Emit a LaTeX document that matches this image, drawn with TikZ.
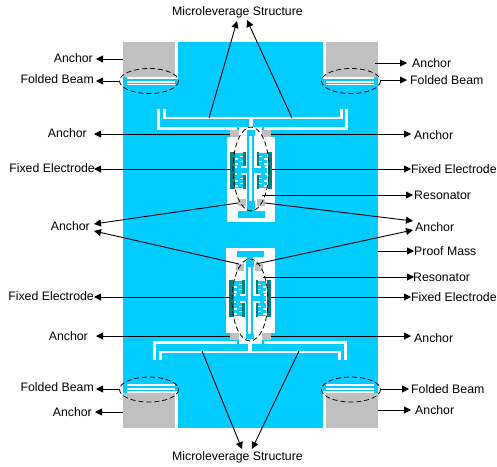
\documentclass[tikz,border=0pt]{standalone}
\usepackage{fontspec}
\setmainfont{Liberation Sans}
\usetikzlibrary{arrows.meta}
\definecolor{mems}{RGB}{0,204,255}
\definecolor{anch}{RGB}{192,192,192}
\definecolor{elec}{RGB}{0,128,128}
\tikzset{
 lab/.style={inner sep=0pt,font=\fontsize{12.3}{13}\selectfont,text height=8.8pt,text depth=0pt},
 conn/.style={draw=black,line width=0.9pt,-{Triangle[length=7pt,width=7pt]}},
 ring/.style={draw=black,line width=0.8pt,dash pattern=on 5pt off 3pt},
 bluepart/.style={fill=mems},
 whitepart/.style={fill=white},
 graypart/.style={fill=anch},
 tealpart/.style={fill=elec}
}
\newcommand{\devcomb}[2]{%
 \begin{scope}[shift={(#1,#2)}]
 \foreach \s in {1,-1}{
  \begin{scope}[xscale=\s]
   \fill[tealpart] (16.5,152) rectangle (21,189);
   \fill[tealpart] (5.5,152) rectangle (8,166);
   \fill[tealpart] (5.5,175) rectangle (8,189);
   \fill[bluepart] (8,153) rectangle (16,166);
   \fill[bluepart] (8,175) rectangle (16,188);
   \fill[bluepart] (2,168) rectangle (16,173);
   \fill[bluepart] (10,165) rectangle (14,176);
   \foreach \y in {156,161,178,183}{
    \fill[whitepart] (8,\y) rectangle (11,\y+1.1);
    \fill[whitepart] (13,\y+2.4) rectangle (16,\y+3.5);
   }
  \end{scope}
 }
 \end{scope}}
\begin{document}
\begin{tikzpicture}[x=1pt,y=-1pt]
\useasboundingbox (0,0) rectangle (497,466);
\fill[white] (0,0) rectangle (497,466);
% proof mass
\fill[bluepart] (123,42) rectangle (378,428);
% anchors, white gaps
\fill[whitepart] (175,42) rectangle (178,79);
\fill[whitepart] (323,42) rectangle (326,79);
\fill[whitepart] (175,391) rectangle (178,428);
\fill[whitepart] (323,391) rectangle (326,428);
\fill[graypart] (123,42) rectangle (175,77);
\fill[graypart] (326,42) rectangle (378,77);
\fill[graypart] (123,393) rectangle (175,428);
\fill[graypart] (326,393) rectangle (378,428);
% folded beams
\foreach \xa/\xb in {127/175,326/374}{
 \fill[whitepart] (\xa,77) rectangle (\xb,79);
 \fill[whitepart] (\xa,80.5) rectangle (\xb,82.5);
 \fill[whitepart] (\xa,83.5) rectangle (\xb,84.5);
 \fill[whitepart] (\xa,384) rectangle (\xb,386);
 \fill[whitepart] (\xa,388) rectangle (\xb,390);
 \fill[whitepart] (\xa,391) rectangle (\xb,393);
}
% upper microlever
\fill[whitepart] (157,109) rectangle (160,129);
\fill[whitepart] (163,109) rectangle (165.5,118.5);
\fill[whitepart] (157,127) rectangle (348,129.5);
\fill[whitepart] (163,116.5) rectangle (342.5,118.5);
\fill[whitepart] (345,109) rectangle (348,129);
\fill[whitepart] (340,109) rectangle (342.5,118.5);
\fill[whitepart] (249,117) rectangle (253,137);
% lower microlever
\fill[whitepart] (153,341) rectangle (156,360);
\fill[whitepart] (159,351) rectangle (162,360);
\fill[whitepart] (153,341) rectangle (347,344);
\fill[whitepart] (159,351) rectangle (341,353);
\fill[whitepart] (344,341) rectangle (347,360);
\fill[whitepart] (338,351) rectangle (341,360);
\fill[whitepart] (248,334) rectangle (252,353);
% upper cavity
\fill[whitepart] (227,137) rectangle (275,222);
\fill[whitepart] (239,129) rectangle (262,137);
\fill[bluepart] (237,126) rectangle (239,130);
\fill[bluepart] (262,126) rectangle (264,130);
\fill[graypart] (230,130) rectangle (239,137);
\fill[graypart] (262,130) rectangle (271,137);
\fill[bluepart] (247,136) rectangle (249,201);
\fill[bluepart] (252,136) rectangle (254,201);
\fill[bluepart] (247,130) rectangle (255,136);
\devcomb{251}{0}
\fill[graypart] (238,199) rectangle (246,206);
\fill[graypart] (257,199) rectangle (265,206);
\fill[bluepart] (247,201) rectangle (255,211);
\fill[bluepart] (238,211) rectangle (265,218);
% lower cavity
\fill[whitepart] (226,248) rectangle (275,333);
\fill[whitepart] (239,333) rectangle (262,341);
\fill[bluepart] (237,251) rectangle (264,257);
\fill[bluepart] (246.5,257) rectangle (253,261);
\fill[bluepart] (246,261) rectangle (254,267);
\fill[graypart] (236,264) rectangle (244,271);
\fill[graypart] (255,264) rectangle (263,271);
\fill[bluepart] (246,267) rectangle (248,334);
\fill[bluepart] (251,267) rectangle (253,334);
\devcomb{250}{128}
\fill[bluepart] (246,334) rectangle (254,339);
\fill[graypart] (230,333) rectangle (239,340);
\fill[graypart] (262,333) rectangle (271,340);
\fill[bluepart] (237,340) rectangle (239,344);
\fill[bluepart] (262,340) rectangle (264,344);
% rings
\draw[ring] (149,81) ellipse [x radius=29.5,y radius=12.5];
\draw[ring] (351,81) ellipse [x radius=29.5,y radius=12.5];
\draw[ring] (149,389.5) ellipse [x radius=29.5,y radius=12.5];
\draw[ring] (351,389.5) ellipse [x radius=29.5,y radius=12.5];
\draw[ring] (251,169) ellipse [x radius=18,y radius=42];
\draw[ring] (250,300) ellipse [x radius=18,y radius=41];
% labels
\node[lab] (mt) at (237.5,11) {Microleverage Structure};
\node[lab] (mb) at (237.5,456) {Microleverage Structure};
\node[lab,anchor=east] (l1) at (93,58) {Anchor};
\node[lab,anchor=east] (l2) at (94,79) {Folded Beam};
\node[lab,anchor=east] (l3) at (87,133) {Anchor};
\node[lab,anchor=east] (l4) at (95,168) {Fixed Electrode};
\node[lab,anchor=east] (l5) at (90,226) {Anchor};
\node[lab,anchor=east] (l6) at (94,296) {Fixed Electrode};
\node[lab,anchor=east] (l7) at (88,336) {Anchor};
\node[lab,anchor=east] (l8) at (94,387) {Folded Beam};
\node[lab,anchor=east] (l9) at (92,412) {Anchor};
\node[lab,anchor=west] (r1) at (412,63) {Anchor};
\node[lab,anchor=west] (r2) at (410,80) {Folded Beam};
\node[lab,anchor=west] (r3) at (414,135) {Anchor};
\node[lab,anchor=west] (r4) at (411,169) {Fixed Electrode};
\node[lab,anchor=west] (r5) at (414,195) {Resonator};
\node[lab,anchor=west] (r6) at (415,227) {Anchor};
\node[lab,anchor=west] (r7) at (414,251) {Proof Mass};
\node[lab,anchor=west] (r8) at (413,277) {Resonator};
\node[lab,anchor=west] (r9) at (411,297) {Fixed Electrode};
\node[lab,anchor=west] (r10) at (414,338) {Anchor};
\node[lab,anchor=west] (r11) at (411,389) {Folded Beam};
\node[lab,anchor=west] (r12) at (415,410) {Anchor};
% connector free ends
\foreach \n/\x/\y in {a1/209/118,a2/292/118,a3/202/351,a4/299/351,
 b1/123/59,b2/119.5/81,b3/230/134,b4/230/169,b5/238/203,b6/239/264,b7/230/297,b8/230/336,b9/119.5/389,b10/123/412,
 c1/375/63,c2/381/80,c3/271/134,c4/272/169,c5/262/195,c6/265/203,c7/256/264,c8/378/251,c9/263/277,c10/271/297,c11/271/336,c12/381/389,c13/378/410}
 \coordinate (\n) at (\x,\y);
\draw[conn] (a1) -- (237,21);
\draw[conn] (a2) -- (247,20);
\draw[conn] (a3) -- (242,449);
\draw[conn] (a4) -- (252,449);
\draw[conn] (b1) -- ([shift={(3,1)}]l1.east);
\draw[conn] (b2) -- ([shift={(2,2)}]l2.east);
\draw[conn] (b3) -- ([shift={(7,1)}]l3.east);
\draw[conn] (b4) -- ([shift={(-1,1)}]l4.east);
\draw[conn] (b5) -- ([shift={(4,-2)}]l5.east);
\draw[conn] (b6) -- ([shift={(4,5)}]l5.east);
\draw[conn] (b7) -- ([shift={(0,1)}]l6.east);
\draw[conn] (b8) -- ([shift={(8,0)}]l7.east);
\draw[conn] (b9) -- ([shift={(2,2)}]l8.east);
\draw[conn] (b10) -- ([shift={(3,0)}]l9.east);
\draw[conn] (c1) -- ([shift={(-5,0)}]r1.west);
\draw[conn] (c2) -- ([shift={(-3,0)}]r2.west);
\draw[conn] (c3) -- ([shift={(-3,-1)}]r3.west);
\draw[conn] (c4) -- (r4.west);
\draw[conn] (c5) -- ([shift={(-1,0)}]r5.west);
\draw[conn] (c6) -- ([shift={(-2,-6)}]r6.west);
\draw[conn] (c7) -- ([shift={(-2,3)}]r6.west);
\draw[conn] (c8) -- (r7.west);
\draw[conn] (c9) -- ([shift={(1,0)}]r8.west);
\draw[conn] (c10) -- (r9.west);
\draw[conn] (c11) -- ([shift={(-3,-2)}]r10.west);
\draw[conn] (c12) -- ([shift={(-2,0)}]r11.west);
\draw[conn] (c13) -- ([shift={(-4,0)}]r12.west);
\end{tikzpicture}
\end{document}
